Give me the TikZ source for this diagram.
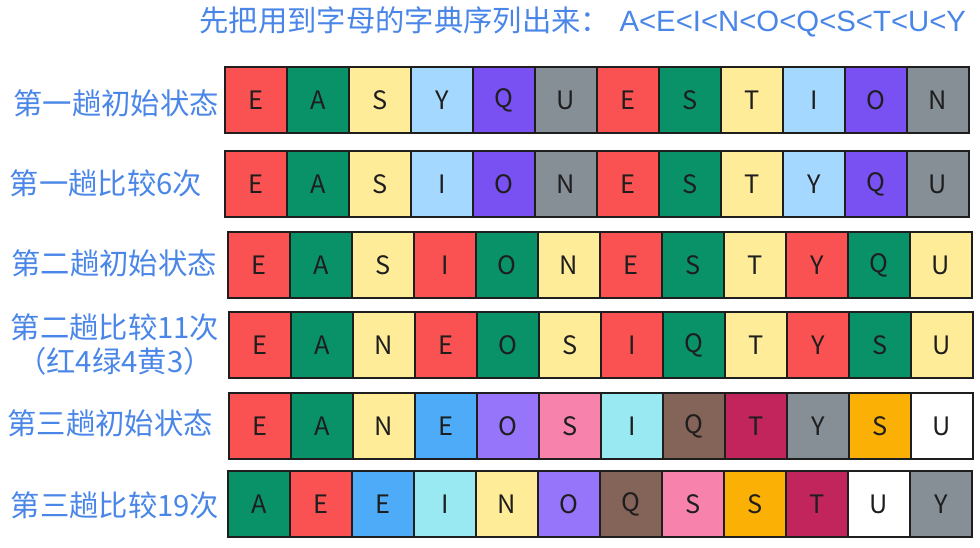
\documentclass[tikz,border=0pt]{standalone}
\usepackage{fontspec}
\setmainfont{Noto Sans CJK SC}
\newfontfamily\latinfont{Liberation Sans}

\definecolor{cred}{HTML}{FA5252}
\definecolor{cgreen}{HTML}{099268}
\definecolor{cyellow}{HTML}{FFEC99}
\definecolor{clblue}{HTML}{A5D8FF}
\definecolor{cviolet}{HTML}{7950F2}
\definecolor{cgray}{HTML}{868E96}
\definecolor{cblue}{HTML}{4DABF7}
\definecolor{clviolet}{HTML}{9775FA}
\definecolor{cpink}{HTML}{F783AC}
\definecolor{ccyan}{HTML}{99E9F2}
\definecolor{cbrown}{HTML}{846358}
\definecolor{ccrimson}{HTML}{C2255C}
\definecolor{corange}{HTML}{FAB005}
\definecolor{cwhite}{HTML}{FFFFFF}
\definecolor{ink}{HTML}{1E1E1E}
\definecolor{labelblue}{HTML}{4A86E8}

\tikzset{every picture/.style={line width=0.75pt},
  cell/.style={draw=ink, line width=2pt, minimum width=46.5pt, minimum height=49.5pt,
    inner sep=0pt, text=ink, font=\fontsize{19}{19}\selectfont},
  rowlabel/.style={text=labelblue, inner sep=0.75pt, align=center,
    font=\fontsize{22}{25.5}\selectfont}}

\begin{document}
\begin{tikzpicture}[x=0.75pt,y=0.75pt,yscale=-1,xscale=1]
\useasboundingbox (0,0) rectangle (980,548);

% Title
\node [rowlabel, anchor=west] (title) at (198,22) {先把用到字母的字典序列出来：\hspace{7pt}{\latinfont A<E<I<N<O<Q<S<T<U<Y}};

% Row labels
\node [rowlabel] (lab1) at (116,103) {第一趟初始状态};
\node [rowlabel] (lab2) at (106,183) {第一趟比较6次};
\node [rowlabel] (lab3) at (114,263) {第二趟初始状态};
\node [rowlabel] (lab4) at (115,345) {第二趟比较11次\\（红4绿4黄3）};
\node [rowlabel] (lab5) at (110,423) {第三趟初始状态};
\node [rowlabel] (lab6) at (115,505) {第三趟比较19次};

% Cells: row / left edge / centre height / letters
\foreach \r/\x/\y/\cells in {
  1/225/100/{E/cred,A/cgreen,S/cyellow,Y/clblue,Q/cviolet,U/cgray,E/cred,S/cgreen,T/cyellow,I/clblue,O/cviolet,N/cgray},
  2/225/184/{E/cred,A/cgreen,S/cyellow,I/clblue,O/cviolet,N/cgray,E/cred,S/cgreen,T/cyellow,Y/clblue,Q/cviolet,U/cgray},
  3/228/265/{E/cred,A/cgreen,S/cyellow,I/cred,O/cgreen,N/cyellow,E/cred,S/cgreen,T/cyellow,Y/cred,Q/cgreen,U/cyellow},
  4/229/345/{E/cred,A/cgreen,N/cyellow,E/cred,O/cgreen,S/cyellow,I/cred,Q/cgreen,T/cyellow,Y/cred,S/cgreen,U/cyellow},
  5/229/426/{E/cred,A/cgreen,N/cyellow,E/cblue,O/clviolet,S/cpink,I/ccyan,Q/cbrown,T/ccrimson,Y/cgray,S/corange,U/cwhite},
  6/228/504/{A/cgreen,E/cred,E/cblue,I/ccyan,N/cyellow,O/clviolet,Q/cbrown,S/cpink,S/corange,T/ccrimson,U/cwhite,Y/cgray}}
  \foreach \l/\c [count=\i] in \cells
    \node [cell, fill=\c] (r\r-\i) at ({\x+31+62*(\i-1)},\y) {\l};

\end{tikzpicture}
\end{document}
